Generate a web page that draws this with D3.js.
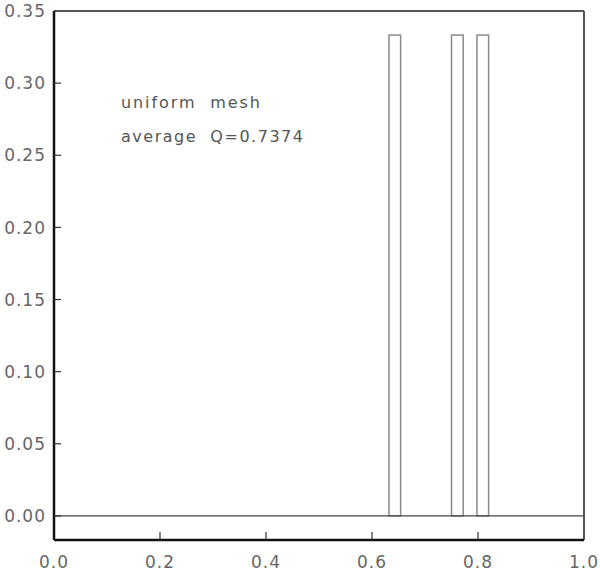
<!DOCTYPE html>
<html>
<head>
<meta charset="utf-8">
<script src="https://cdn.jsdelivr.net/npm/d3@7"></script>
<style>
  body { margin: 0; background: #fff; }
  text { font-family: "DejaVu Sans", Verdana, sans-serif; }
</style>
</head>
<body>
<div id="chart"></div>
<script>
// histogram of element quality
const binLo = [0.632, 0.750, 0.798];
const binHi = [0.654, 0.772, 0.820];
const freq = [0.3333, 0.3333, 0.3333];
const xTicks = [0.0, 0.2, 0.4, 0.6, 0.8, 1.0];
const yTicks = [0.00, 0.05, 0.10, 0.15, 0.20, 0.25, 0.30, 0.35];
const notes = ["uniform  mesh", "average  Q=0.7374"];

const W = 600, H = 571;
const margin = {top: 11, right: 16, bottom: 31, left: 54};
const width = W - margin.left - margin.right;
const height = H - margin.top - margin.bottom;

const xScale = d3.scaleLinear().domain([0, 1]).range([0, width]);
const yScale = d3.scaleLinear().domain([-0.0167, 0.35]).range([height, 0]);

const svg = d3.select("#chart")
    .append("svg")
    .attr("width", W)
    .attr("height", H)
    .append("g")
    .attr("transform", `translate(${margin.left},${margin.top})`);

// bars
const bars = binLo.map((d, i) => ({lo: d, hi: binHi[i], f: freq[i]}));
svg.selectAll(".bar")
    .data(bars)
    .enter().append("rect")
    .attr("class", "bar")
    .attr("x", d => xScale(d.lo))
    .attr("width", d => xScale(d.hi) - xScale(d.lo))
    .attr("y", d => yScale(d.f))
    .attr("height", d => yScale(0) - yScale(d.f))
    .attr("fill", "#fff")
    .attr("stroke", "#8a8a8a")
    .attr("stroke-width", 1.5);

// zero line
svg.append("line")
    .attr("x1", 0)
    .attr("x2", width)
    .attr("y1", yScale(0))
    .attr("y2", yScale(0))
    .attr("stroke", "#444")
    .attr("stroke-width", 1.2);

// frame: top/right lighter, left/bottom heavy
svg.append("line").attr("x1", 0).attr("x2", width).attr("y1", 0).attr("y2", 0)
    .attr("stroke", "#555").attr("stroke-width", 2);
svg.append("line").attr("x1", width).attr("x2", width).attr("y1", 0).attr("y2", height)
    .attr("stroke", "#555").attr("stroke-width", 2);
svg.append("line").attr("x1", 0).attr("x2", width).attr("y1", height).attr("y2", height)
    .attr("stroke", "#111").attr("stroke-width", 2.5);
svg.append("line").attr("x1", 0).attr("x2", 0).attr("y1", 0).attr("y2", height)
    .attr("stroke", "#111").attr("stroke-width", 2.5);

// inward ticks
svg.selectAll(".ytick")
    .data(yTicks.slice(0, -1))
    .enter().append("line")
    .attr("class", "ytick")
    .attr("x1", 0)
    .attr("x2", 7)
    .attr("y1", d => yScale(d))
    .attr("y2", d => yScale(d))
    .attr("stroke", "#333")
    .attr("stroke-width", 1.2);

svg.selectAll(".xtick")
    .data(xTicks.slice(1, -1))
    .enter().append("line")
    .attr("class", "xtick")
    .attr("x1", d => xScale(d))
    .attr("x2", d => xScale(d))
    .attr("y1", height)
    .attr("y2", height - 8)
    .attr("stroke", "#333")
    .attr("stroke-width", 1.2);

// tick labels
svg.selectAll(".ylabel")
    .data(yTicks)
    .enter().append("text")
    .attr("class", "ylabel")
    .attr("x", -8)
    .attr("y", d => yScale(d))
    .attr("dy", "0.36em")
    .attr("text-anchor", "end")
    .attr("font-size", "17px")
    .attr("letter-spacing", "1px")
    .attr("fill", "#666")
    .text(d => d3.format(".2f")(d));

svg.selectAll(".xlabel")
    .data(xTicks)
    .enter().append("text")
    .attr("class", "xlabel")
    .attr("x", d => xScale(d))
    .attr("y", height + 28)
    .attr("text-anchor", "middle")
    .attr("font-size", "17px")
    .attr("letter-spacing", "1px")
    .attr("fill", "#666")
    .text(d => d3.format(".1f")(d));

// annotation
const noteWidths = [139, 182];
svg.selectAll(".note")
    .data(notes)
    .enter().append("text")
    .attr("class", "note")
    .attr("x", 67)
    .attr("y", (d, i) => 97 + i * 34)
    .attr("font-size", "16px")
    .attr("fill", "#555")
    .attr("textLength", (d, i) => noteWidths[i])
    .attr("lengthAdjust", "spacing")
    .style("white-space", "pre")
    .text(d => d);
</script>
</body>
</html>
